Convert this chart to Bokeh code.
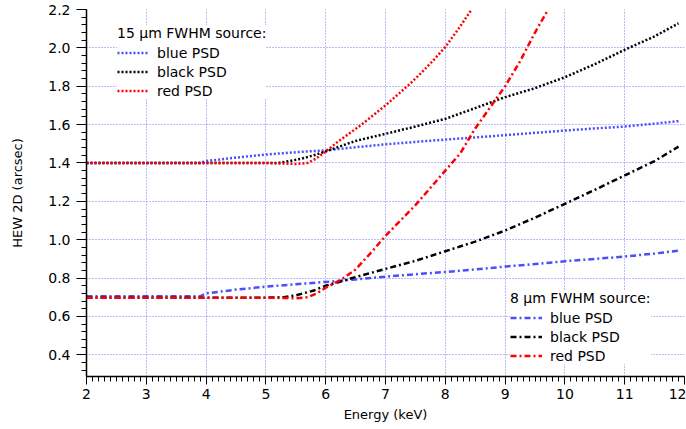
from bokeh.plotting import figure
from bokeh.models import (Range1d, Legend, LegendItem, SingleIntervalTicker,
                          PrintfTickFormatter)
from bokeh.embed import file_html
from bokeh.resources import INLINE

# ---- data ----
energy_blue15 = [2.0, 3.0, 3.9, 4.0, 4.5, 5.0, 5.5, 6.0, 6.5, 7.0, 7.5, 8.0, 8.5, 9.0, 9.5, 10.0, 10.5, 11.0, 11.5, 11.9]
hew_blue15 = [1.40, 1.40, 1.40, 1.41, 1.428, 1.444, 1.456, 1.466, 1.482, 1.497, 1.51, 1.522, 1.533, 1.545, 1.557, 1.569, 1.58, 1.59, 1.605, 1.618]

energy_black15 = [2.0, 3.0, 4.0, 5.0, 5.2, 5.4, 5.6, 5.8, 6.0, 6.5, 7.0, 7.5, 8.0, 8.5, 9.0, 9.5, 10.0, 10.5, 11.0, 11.5, 11.9]
hew_black15 = [1.40, 1.40, 1.40, 1.40, 1.40, 1.41, 1.423, 1.44, 1.46, 1.515, 1.552, 1.59, 1.63, 1.686, 1.743, 1.79, 1.847, 1.915, 1.99, 2.06, 2.128]

energy_red15 = [2.0, 3.0, 4.0, 5.0, 5.5, 5.7, 5.85, 6.0, 6.2, 6.4, 6.6, 6.8, 7.0, 7.2, 7.4, 7.6, 7.8, 8.0, 8.2, 8.44]
hew_red15 = [1.40, 1.40, 1.40, 1.40, 1.395, 1.40, 1.425, 1.46, 1.51, 1.555, 1.60, 1.65, 1.70, 1.755, 1.81, 1.87, 1.935, 2.005, 2.09, 2.2]

energy_blue8 = [2.0, 3.0, 3.9, 4.0, 4.5, 5.0, 5.5, 6.0, 6.5, 7.0, 7.5, 8.0, 8.5, 9.0, 9.5, 10.0, 10.5, 11.0, 11.5, 11.9]
hew_blue8 = [0.705, 0.705, 0.705, 0.72, 0.74, 0.755, 0.768, 0.78, 0.793, 0.807, 0.82, 0.832, 0.845, 0.86, 0.873, 0.888, 0.90, 0.912, 0.928, 0.943]

energy_black8 = [2.0, 3.0, 4.0, 5.0, 5.3, 5.5, 5.8, 6.0, 6.5, 7.0, 7.5, 8.0, 8.5, 9.0, 9.5, 10.0, 10.5, 11.0, 11.5, 11.9]
hew_black8 = [0.698, 0.698, 0.698, 0.698, 0.70, 0.71, 0.735, 0.76, 0.805, 0.848, 0.89, 0.94, 0.99, 1.048, 1.115, 1.187, 1.26, 1.335, 1.41, 1.485]

energy_red8 = [2.0, 3.0, 4.0, 5.0, 5.5, 5.7, 5.85, 6.0, 6.25, 6.5, 6.75, 7.0, 7.25, 7.5, 7.75, 8.0, 8.25, 8.5, 8.75, 9.0, 9.25, 9.5, 9.72]
hew_red8 = [0.698, 0.698, 0.698, 0.698, 0.695, 0.70, 0.72, 0.75, 0.79, 0.845, 0.93, 1.02, 1.10, 1.18, 1.27, 1.36, 1.45, 1.58, 1.69, 1.80, 1.93, 2.08, 2.2]

labels = ["blue PSD", "black PSD", "red PSD"]
title_15 = "15 μm FWHM source:"
title_8 = "8 μm FWHM source:"
x_label = "Energy (keV)"
y_label = "HEW 2D (arcsec)"

BLUE = "#4d4dff"
BLACK = "#000000"
RED = "#ff0000"
FONT = "DejaVu Sans"

p = figure(width=686, height=429, output_backend="svg", toolbar_location=None,
           x_range=Range1d(2, 12), y_range=Range1d(0.287, 2.2),
           min_border_left=86, min_border_right=2, min_border_top=9,
           min_border_bottom=53)
p.outline_line_color = None
p.background_fill_color = "white"

# axes
p.xaxis.ticker = SingleIntervalTicker(interval=1, num_minor_ticks=10)
p.yaxis.ticker = SingleIntervalTicker(interval=0.2, num_minor_ticks=5)
p.xaxis.formatter = PrintfTickFormatter(format="%d")
p.yaxis.formatter = PrintfTickFormatter(format="%.1f")
p.xaxis.axis_label = x_label
p.yaxis.axis_label = y_label
for ax in (p.xaxis, p.yaxis):
    ax.axis_line_color = "black"
    ax.axis_line_width = 1.5
    ax.major_tick_line_color = "black"
    ax.minor_tick_line_color = "black"
    ax.major_tick_in = 0
    ax.minor_tick_in = 0
    ax.major_label_text_font = FONT
    ax.major_label_text_font_size = "14px"
    ax.major_label_text_color = "black"
    ax.axis_label_text_font = FONT
    ax.axis_label_text_font_size = "13px"
    ax.axis_label_text_font_style = "normal"
    ax.axis_label_text_color = "black"
p.yaxis.major_tick_out = 10
p.yaxis.minor_tick_out = 5
p.yaxis.major_label_standoff = 6
p.yaxis.axis_label_standoff = 20
p.xaxis.major_tick_out = 8
p.xaxis.minor_tick_out = 5
p.xaxis.major_label_standoff = 4
p.xaxis.axis_label_standoff = 5

# grid
for g in (p.xgrid, p.ygrid):
    g.grid_line_color = "#5c5cff"
    g.grid_line_alpha = 0.85
    g.grid_line_dash = "1 2"
    g.grid_line_width = 1

DOT = "2 2"
DASHDOT = "6 3 2 3"
LW = 2.5

r_b15 = p.line(energy_blue15, hew_blue15, color=BLUE, line_width=LW, line_dash=DOT)
r_k15 = p.line(energy_black15, hew_black15, color=BLACK, line_width=LW, line_dash=DOT)
r_r15 = p.line(energy_red15, hew_red15, color=RED, line_width=LW, line_dash=DOT)
r_b8 = p.line(energy_blue8, hew_blue8, color=BLUE, line_width=LW, line_dash=DASHDOT)
r_k8 = p.line(energy_black8, hew_black8, color=BLACK, line_width=LW, line_dash=DASHDOT)
r_r8 = p.line(energy_red8, hew_red8, color=RED, line_width=LW, line_dash=DASHDOT)


def make_legend(title, rends, loc):
    leg = Legend(items=[LegendItem(label=l, renderers=[r]) for l, r in zip(labels, rends)],
                 title=title, location=loc)
    leg.background_fill_color = "white"
    leg.background_fill_alpha = 1.0
    leg.border_line_color = None
    leg.title_text_font = FONT
    leg.title_text_font_size = "14px"
    leg.title_text_font_style = "normal"
    leg.title_text_color = "black"
    leg.title_standoff = 3
    leg.label_text_font = FONT
    leg.label_text_font_size = "14px"
    leg.label_text_color = "black"
    leg.glyph_width = 32
    leg.glyph_height = 17
    leg.label_height = 17
    leg.spacing = 2
    leg.padding = 5
    leg.margin = 0
    leg.label_standoff = 8
    return leg


p.add_layout(make_legend(title_15, [r_b15, r_k15, r_r15], (31, 277)))
p.add_layout(make_legend(title_8, [r_b8, r_k8, r_r8], (424, 12)))

open("out.html", "w").write(file_html(p, INLINE))
